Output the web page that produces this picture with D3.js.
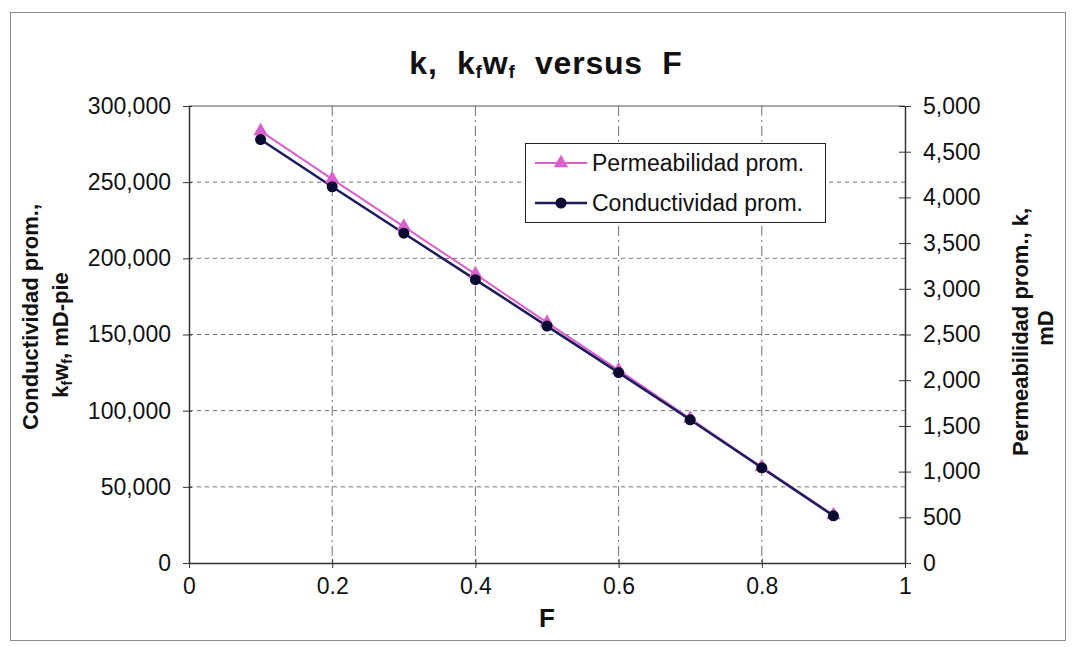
<!DOCTYPE html>
<html>
<head>
<meta charset="utf-8">
<script src="https://cdn.jsdelivr.net/npm/d3@7"></script>
<style>
  body { margin: 0; background: #fff; }
  text { font-family: Arial, "Liberation Sans", sans-serif; fill: #111; }
</style>
</head>
<body>
<div id="chart"></div>
<script>
/* DATA */
const fValues = [0.1, 0.2, 0.3, 0.4, 0.5, 0.6, 0.7, 0.8, 0.9];
const conductividad = [278000, 247000, 216500, 186000, 155500, 125000, 94000, 62500, 31000];
const permeabilidad = [4725, 4200, 3680, 3160, 2630, 2110, 1580, 1050, 525];
const xTicks = [0, 0.2, 0.4, 0.6, 0.8, 1];
const leftTicks = [0, 50000, 100000, 150000, 200000, 250000, 300000];
const rightTicks = [0, 500, 1000, 1500, 2000, 2500, 3000, 3500, 4000, 4500, 5000];
const seriesNames = ["Permeabilidad prom.", "Conductividad prom."];

/* CONSTANTS */
const width = 1072,
  height = 647,
  margin = { top: 106, bottom: 84, left: 189, right: 167 };

const pink = "#dc5fcf",
  navy = "#1b1b5e",
  navyDot = "#0a0a33";

const svg = d3.select("#chart")
  .append("svg")
  .attr("width", width)
  .attr("height", height);

// outer frame
svg.append("rect")
  .attr("x", 10.5).attr("y", 12.5)
  .attr("width", 1055).attr("height", 628)
  .attr("fill", "#fff")
  .attr("stroke", "#8a8a8a");

// scales
const xScale = d3.scaleLinear().domain([0, 1]).range([margin.left, width - margin.right]);
const yLeft = d3.scaleLinear().domain([0, 300000]).range([height - margin.bottom, margin.top]);
const yRight = d3.scaleLinear().domain([0, 5000]).range([height - margin.bottom, margin.top]);

// gridlines
svg.append("g")
  .selectAll("line")
  .data(leftTicks.slice(1, -1))
  .join("line")
  .attr("x1", margin.left).attr("x2", width - margin.right)
  .attr("y1", d => yLeft(d)).attr("y2", d => yLeft(d))
  .attr("stroke", "#707070")
  .attr("stroke-dasharray", "4,4");

svg.append("g")
  .selectAll("line")
  .data(xTicks.slice(1, -1))
  .join("line")
  .attr("x1", d => xScale(d)).attr("x2", d => xScale(d))
  .attr("y1", margin.top).attr("y2", height - margin.bottom)
  .attr("stroke", "#707070")
  .attr("stroke-dasharray", "10,4,2,4");

// top border of plot
svg.append("line")
  .attr("x1", margin.left).attr("x2", width - margin.right)
  .attr("y1", margin.top).attr("y2", margin.top)
  .attr("stroke", "#555");

// axes
const fmt = d3.format(",");
const xAxis = d3.axisBottom(xScale).tickValues(xTicks).tickFormat(d => d).tickSizeInner(5).tickSizeOuter(0).tickPadding(8);
const leftAxis = d3.axisLeft(yLeft).tickValues(leftTicks).tickFormat(fmt).tickSizeInner(8).tickSizeOuter(0).tickPadding(10);
const rightAxis = d3.axisRight(yRight).tickValues(rightTicks).tickFormat(fmt).tickSizeInner(8).tickSizeOuter(0).tickPadding(10);

function styleAxis(g) {
  g.select(".domain").attr("stroke", "#333").attr("stroke-width", 1.5);
  g.selectAll(".tick line").attr("stroke", "#333");
  g.selectAll(".tick text").attr("font-size", 23).attr("fill", "#111").attr("font-family", "Arial, 'Liberation Sans', sans-serif");
}

const gx = svg.append("g")
  .attr("transform", `translate(0,${height - margin.bottom})`)
  .call(xAxis)
  .call(styleAxis);
gx.selectAll(".tick line").attr("y1", -4);
gx.selectAll(".tick text").attr("dy", "0.8em");

const gl = svg.append("g")
  .attr("transform", `translate(${margin.left},0)`)
  .call(leftAxis)
  .call(styleAxis);
gl.selectAll(".tick line").attr("x2", -6).attr("x1", 3);

const gr = svg.append("g")
  .attr("transform", `translate(${width - margin.right},0)`)
  .call(rightAxis)
  .call(styleAxis);
gr.selectAll(".tick line").attr("x1", -6).attr("x2", 6);

// lines
const permLine = d3.line().x((d, i) => xScale(fValues[i])).y(d => yRight(d));
const condLine = d3.line().x((d, i) => xScale(fValues[i])).y(d => yLeft(d));

svg.append("path")
  .datum(permeabilidad)
  .attr("d", permLine)
  .attr("fill", "none")
  .attr("stroke", pink)
  .attr("stroke-width", 2);

svg.append("path")
  .datum(conductividad)
  .attr("d", condLine)
  .attr("fill", "none")
  .attr("stroke", navy)
  .attr("stroke-width", 2.5);

const triangle = d3.symbol().type(d3.symbolTriangle).size(90);

svg.append("g")
  .selectAll("path")
  .data(permeabilidad)
  .join("path")
  .attr("d", triangle)
  .attr("transform", (d, i) => `translate(${xScale(fValues[i])},${yRight(d)})`)
  .attr("fill", pink);

svg.append("g")
  .selectAll("circle")
  .data(conductividad)
  .join("circle")
  .attr("cx", (d, i) => xScale(fValues[i]))
  .attr("cy", d => yLeft(d))
  .attr("r", 5.5)
  .attr("fill", navyDot);

// title
const title = svg.append("text")
  .attr("x", 546)
  .attr("y", 74)
  .attr("text-anchor", "middle")
  .attr("font-size", 32)
  .attr("font-weight", "bold")
  .attr("letter-spacing", 0.8)
  .style("white-space", "pre");
title.append("tspan").text("k,  k");
title.append("tspan").attr("font-size", 19).attr("dy", 4).text("f");
title.append("tspan").attr("dy", -4).text("w");
title.append("tspan").attr("font-size", 19).attr("dy", 4).text("f");
title.append("tspan").attr("dy", -4).text("  versus  F");

// x axis title
svg.append("text")
  .attr("x", xScale(0.5))
  .attr("y", 627)
  .attr("text-anchor", "middle")
  .attr("font-size", 26)
  .attr("font-weight", "bold")
  .text("F");

// left axis title
const lt = svg.append("g").attr("transform", "translate(30,317) rotate(-90)");
lt.append("text")
  .attr("text-anchor", "middle")
  .attr("dy", "0.35em")
  .attr("font-size", 22)
  .attr("font-weight", "bold")
  .text("Conductividad prom.,");
const lt2 = svg.append("g").attr("transform", "translate(60,335) rotate(-90)")
  .append("text")
  .attr("text-anchor", "middle")
  .attr("dy", "0.35em")
  .attr("font-size", 22)
  .attr("font-weight", "bold");
lt2.append("tspan").text("k");
lt2.append("tspan").attr("font-size", 14).attr("dy", 4).text("f");
lt2.append("tspan").attr("dy", -4).text("w");
lt2.append("tspan").attr("font-size", 14).attr("dy", 4).text("f");
lt2.append("tspan").attr("dy", -4).text(", mD-pie");

// right axis title
svg.append("g").attr("transform", "translate(1020,332) rotate(-90)")
  .append("text")
  .attr("text-anchor", "middle")
  .attr("dy", "0.35em")
  .attr("font-size", 22)
  .attr("font-weight", "bold")
  .text("Permeabilidad prom., k,");
svg.append("g").attr("transform", "translate(1045,328) rotate(-90)")
  .append("text")
  .attr("text-anchor", "middle")
  .attr("dy", "0.35em")
  .attr("font-size", 22)
  .attr("font-weight", "bold")
  .text("mD");

// legend
const legend = svg.append("g").attr("transform", "translate(525,143)");
legend.append("rect")
  .attr("x", 0.5).attr("y", 0.5)
  .attr("width", 300).attr("height", 79)
  .attr("fill", "#fff")
  .attr("stroke", "#222");

const legendColors = [pink, navy];
const rows = legend.selectAll("g.row")
  .data(seriesNames)
  .join("g")
  .attr("class", "row")
  .attr("transform", (d, i) => `translate(0,${20 + i * 40})`);

rows.append("line")
  .attr("x1", 10).attr("x2", 62)
  .attr("stroke", (d, i) => legendColors[i])
  .attr("stroke-width", (d, i) => i === 0 ? 2 : 2.5);

rows.filter((d, i) => i === 0)
  .append("path")
  .attr("d", triangle)
  .attr("transform", "translate(36,0)")
  .attr("fill", pink);

rows.filter((d, i) => i === 1)
  .append("circle")
  .attr("cx", 36)
  .attr("r", 5.5)
  .attr("fill", navyDot);

rows.append("text")
  .attr("x", 67)
  .attr("dy", "0.35em")
  .attr("font-size", 23)
  .text(d => d);
</script>
</body>
</html>
